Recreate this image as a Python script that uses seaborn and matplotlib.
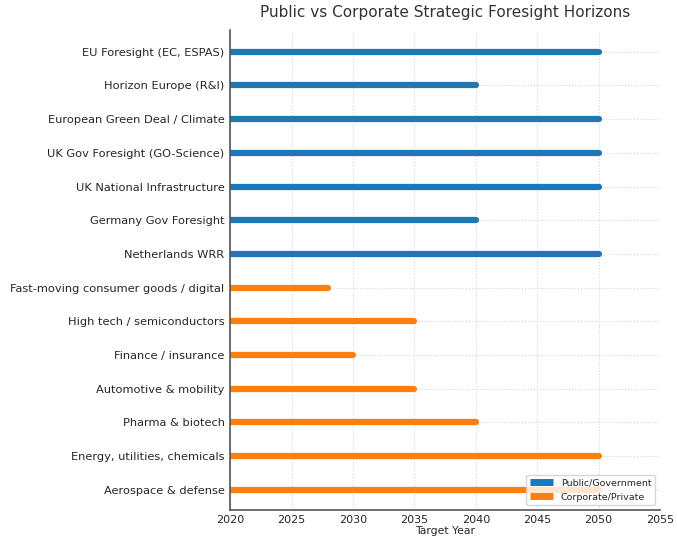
import numpy as np
import pandas as pd
import seaborn as sns
import matplotlib.pyplot as plt

public_labels = ["EU Foresight (EC, ESPAS)", "Horizon Europe (R&I)", "European Green Deal / Climate",
                 "UK Gov Foresight (GO-Science)", "UK National Infrastructure", "Germany Gov Foresight",
                 "Netherlands WRR"]
public_years = [2050, 2040, 2050, 2050, 2050, 2040, 2050]

corporate_labels = ["Fast-moving consumer goods / digital", "High tech / semiconductors", "Finance / insurance",
                    "Automotive & mobility", "Pharma & biotech", "Energy, utilities, chemicals",
                    "Aerospace & defense"]
corporate_years = [2028, 2035, 2030, 2035, 2040, 2050, 2050]

start_year = 2020
groups = ["Public/Government", "Corporate/Private"]
colors = ["#1f77b4", "#ff7f0e"]

labels = public_labels + corporate_labels
ends = public_years + corporate_years
kinds = [groups[0]] * len(public_labels) + [groups[1]] * len(corporate_labels)

rows = []
for i, (lab, end, kind) in enumerate(zip(labels, ends, kinds)):
    rows.append({"label": lab, "year": start_year, "pos": i, "group": kind})
    rows.append({"label": lab, "year": end, "pos": i, "group": kind})
df = pd.DataFrame(rows)

sns.set_style("white")
plt.rcParams["font.family"] = ["DejaVu Sans"]

fig = plt.figure(figsize=(6.77, 5.42), dpi=100)
ax = fig.add_axes([0.340, 0.059, 0.635, 0.886])

sns.lineplot(data=df, x="year", y="pos", hue="group", units="label", estimator=None, sort=False,
             palette=dict(zip(groups, colors)), linewidth=4.5, solid_capstyle="round", ax=ax)

ax.set_xlim(2020, 2055)
ax.set_xticks(np.arange(2020, 2056, 5))
ax.set_ylim(len(labels) - 0.4, -0.65)
ax.set_yticks(range(len(labels)))
ax.set_yticklabels(labels)
ax.tick_params(axis="y", labelsize=8.2, length=2, pad=2, color="#555555")
ax.tick_params(axis="x", labelsize=8, length=2, pad=1.5, color="#555555")
ax.set_xlabel("Target Year", fontsize=7.8, labelpad=1)
ax.set_ylabel("")
ax.set_title("Public vs Corporate Strategic Foresight Horizons", fontsize=11, color="#333333", pad=9)

ax.grid(True, linestyle=":", color="#d5d5d5", linewidth=0.8)
ax.set_axisbelow(True)
for side in ["top", "right"]:
    ax.spines[side].set_visible(False)
for side in ["left", "bottom"]:
    ax.spines[side].set_color("#555555")
    ax.spines[side].set_linewidth(1.2)

leg = ax.legend(loc="lower right", fontsize=6.8, framealpha=0.8, handlelength=2.5, borderpad=0.4)
for h in leg.get_lines():
    h.set_linewidth(5)
    h.set_solid_capstyle("butt")

fig.savefig("out.png", dpi=100)
